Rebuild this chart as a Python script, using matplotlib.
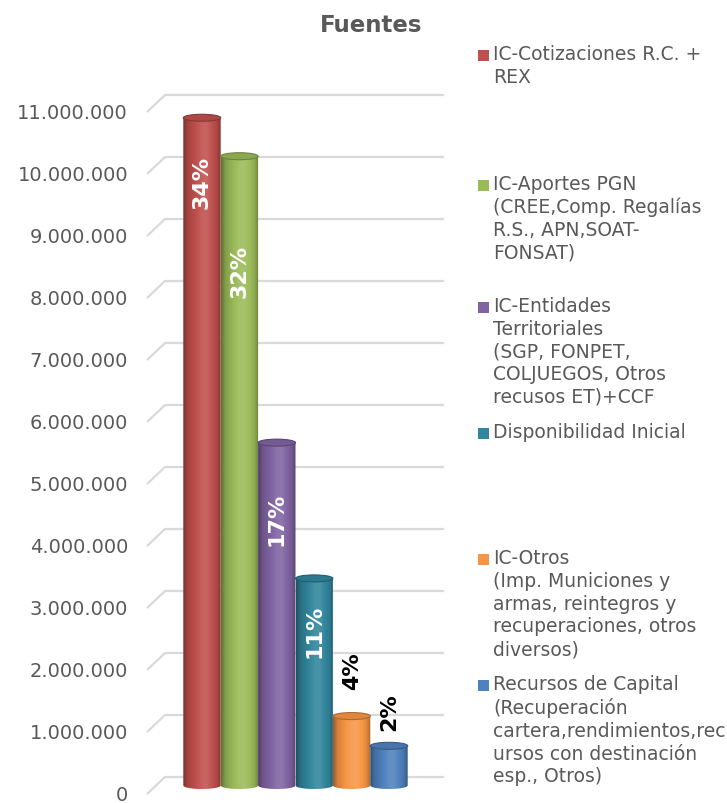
import numpy as np
import matplotlib
matplotlib.use('Agg')
import matplotlib.pyplot as plt
from matplotlib.patches import Ellipse, Rectangle
from matplotlib.path import Path
from matplotlib.transforms import ScaledTranslation

# datos
fuentes = ['IC-Cotizaciones R.C. +\nREX',
           'IC-Aportes PGN\n(CREE,Comp. Regalías\nR.S., APN,SOAT-\nFONSAT)',
           'IC-Entidades\nTerritoriales\n(SGP, FONPET,\nCOLJUEGOS, Otros\nrecusos ET)+CCF',
           'Disponibilidad Inicial',
           'IC-Otros\n(Imp. Municiones y\narmas, reintegros y\nrecuperaciones, otros\ndiversos)',
           'Recursos de Capital\n(Recuperación\ncartera,rendimientos,rec\nursos con destinación\nesp., Otros)']
valores = [10770000, 10150000, 5530000, 3340000, 1120000, 640000]
porcentajes = ['34%', '32%', '17%', '11%', '4%', '2%']
colores = ['#C0504D', '#9BBB59', '#8064A2', '#31859C', '#F79646', '#4F81BD']
ticks = list(range(0, 11000001, 1000000))

gris = '#595959'
W, H = 727, 804
fig = plt.figure(figsize=(W / 100, H / 100), dpi=100)
ax = fig.add_axes([140 / W, 4 / H, 310 / W, 710 / H])
ax.set_xlim(-1.658, 6.631)
ax.set_ylim(-217700, 11234000)
ax.axis('off')

px_y = 1e6 / 62.0        # unidades de datos por pixel (y)
d = 8.5 * px_y           # media profundidad
eh = 7 * px_y            # alto de la elipse

# grid 3D
for t in ticks:
    ax.plot([-1.471, -0.989, 6.471], [t - d, t + d, t + d], color='#D9D9D9', lw=1.6, zorder=0,
            solid_capstyle='butt')
    ax.text(0, t, '{:,}'.format(t).replace(',', '.'), ha='right', va='center', fontsize=14,
            color=gris,
            transform=ax.get_yaxis_transform() + ScaledTranslation(-0.12, -0.085, fig.dpi_scale_trans))


def shade(c, n=80):
    rgb = np.array(matplotlib.colors.to_rgb(c))
    t = np.linspace(0, 1, n)
    f = np.interp(t, [0, 0.12, 0.5, 0.62, 0.88, 1], [0.62, 0.85, 1.1, 1.12, 0.92, 0.7])
    img = np.zeros((1, n, 3))
    for k in range(n):
        if f[k] > 1:
            img[0, k] = rgb + (1 - rgb) * (f[k] - 1)
        else:
            img[0, k] = rgb * f[k]
    return np.clip(img, 0, 1)


offs = [-63.5, -114, -75.5, -51.5, 46, 35]
for i, (v, c) in enumerate(zip(valores, colores)):
    x0, x1 = i - 0.5, i + 0.5
    th = np.linspace(np.pi, 2 * np.pi, 40)
    verts = [(x0, v), (x0, 0)] + [(i + 0.5 * np.cos(a), eh / 2 * np.sin(a)) for a in th] + [(x1, v), (x0, v)]
    im = ax.imshow(shade(c), extent=[x0, x1, -eh / 2, v], aspect='auto', zorder=2,
                   interpolation='bilinear')
    im.set_clip_path(Path(verts), ax.transData)
    rgb = np.array(matplotlib.colors.to_rgb(c))
    ax.add_patch(Ellipse((i, v), 1.0, eh, facecolor=rgb * 0.9, edgecolor=rgb * 0.7, lw=0.8, zorder=3))
    white = i < 4
    ax.annotate(porcentajes[i], xy=(i, v), xytext=(0, offs[i] * 0.72), textcoords='offset points',
                rotation=90, ha='center', va='center', fontsize=16, fontweight='bold',
                color='white' if white else 'black', zorder=4)

ax.set_xlim(-1.658, 6.631)
ax.set_ylim(-217700, 11234000)

fig.text(371 / W, 1 - 25 / H, 'Fuentes', ha='center', va='center', fontsize=16.5,
         fontweight='bold', color=gris)

# leyenda
ley_y = [56, 186, 308, 434, 560, 686]
for lab, c, y in zip(fuentes, colores, ley_y):
    fig.add_artist(Rectangle((478 / W, 1 - (y + 5.5) / H), 11 / W, 11 / H, facecolor=c,
                             edgecolor='none', transform=fig.transFigure))
    fig.text(493 / W, 1 - (y - 11) / H, lab, ha='left', va='top', fontsize=13.5,
             linespacing=1.25, color=gris)

fig.savefig('out.png', dpi=100)
